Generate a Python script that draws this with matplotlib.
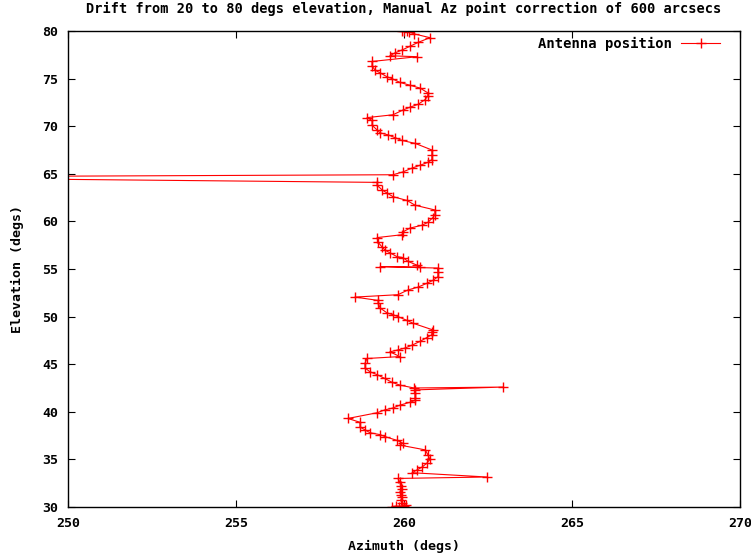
import matplotlib
matplotlib.use("Agg")
import matplotlib.pyplot as plt

# Antenna position samples (in drift order, bottom to top)
azimuth = [
    259.85, 259.65, 259.75, 260.00, 260.05, 259.95, 259.90, 259.95, 259.90, 259.88,
    259.93, 259.90, 259.88, 259.82, 262.47, 260.24, 260.39, 260.54, 260.68, 260.77,
    260.71, 260.63, 259.88, 259.97, 259.79, 259.43, 259.29, 258.99, 258.84, 258.69,
    258.69, 258.33, 259.20, 259.43, 259.67, 259.88, 260.18, 260.33, 260.33, 260.33,
    260.33, 262.95, 260.30, 259.88, 259.64, 259.43, 259.20, 258.99, 258.84, 258.84,
    258.90, 259.88, 259.58, 259.82, 260.03, 260.24, 260.48, 260.68, 260.83, 260.83,
    260.86, 260.27, 260.09, 259.82, 259.67, 259.49, 259.29, 259.23, 259.23, 258.54,
    259.82, 260.12, 260.42, 260.68, 260.86, 261.01, 261.01, 261.00, 259.29, 260.48,
    260.39, 260.12, 259.97, 259.79, 259.58, 259.43, 259.35, 259.23, 259.20, 259.94,
    259.97, 260.18, 260.54, 260.71, 260.86, 260.92, 260.92, 260.33, 260.09, 259.67,
    259.49, 259.35, 259.20, 259.20, 243.00, 259.67, 259.97, 260.24, 260.48, 260.71,
    260.83, 260.83, 260.83, 260.33, 259.94, 259.73, 259.52, 259.29, 259.20, 259.05,
    259.05, 258.90, 259.67, 259.97, 260.18, 260.42, 260.63, 260.71, 260.71, 260.48,
    260.18, 259.88, 259.64, 259.49, 259.29, 259.14, 259.05, 259.05, 260.39, 259.58,
    259.73, 259.94, 260.18, 260.42, 260.77, 260.30, 260.15, 260.00, 259.95, 260.10,
]
elevation = [
    30.00, 30.05, 30.10, 30.10, 30.20, 30.40, 30.70, 31.00, 31.30, 31.60,
    31.90, 32.20, 32.60, 33.00, 33.15, 33.60, 33.90, 34.20, 34.60, 35.00,
    35.50, 36.00, 36.50, 36.70, 37.00, 37.40, 37.60, 37.80, 38.10, 38.40,
    38.90, 39.30, 39.90, 40.20, 40.40, 40.70, 41.00, 41.20, 41.50, 42.00,
    42.30, 42.60, 42.50, 42.80, 43.10, 43.50, 43.90, 44.20, 44.60, 45.10,
    45.60, 45.80, 46.30, 46.50, 46.70, 47.00, 47.40, 47.80, 48.10, 48.40,
    48.60, 49.30, 49.60, 50.00, 50.20, 50.40, 50.90, 51.40, 51.70, 52.05,
    52.30, 52.80, 53.10, 53.50, 53.80, 54.20, 54.70, 55.10, 55.25, 55.20,
    55.40, 55.80, 56.20, 56.30, 56.70, 57.00, 57.30, 57.80, 58.30, 58.60,
    58.90, 59.30, 59.60, 59.90, 60.40, 60.70, 61.20, 61.70, 62.20, 62.60,
    63.00, 63.30, 63.80, 64.10, 64.65, 64.90, 65.20, 65.60, 65.90, 66.20,
    66.50, 67.00, 67.50, 68.20, 68.50, 68.80, 69.10, 69.30, 69.60, 70.10,
    70.60, 70.90, 71.20, 71.70, 72.00, 72.30, 72.80, 73.20, 73.50, 74.00,
    74.30, 74.60, 75.00, 75.20, 75.60, 75.90, 76.30, 76.80, 77.30, 77.40,
    77.70, 78.00, 78.40, 78.80, 79.30, 79.70, 79.90, 80.00, 80.00, 80.00,
]
x_ticks = [250, 255, 260, 265, 270]
y_ticks = [30, 35, 40, 45, 50, 55, 60, 65, 70, 75, 80]
title = "Drift from 20 to 80 degs elevation, Manual Az point correction of 600 arcsecs"
series_label = "Antenna position"

plt.rcParams['font.family'] = ['DejaVu Sans Mono']
plt.rcParams['font.weight'] = 'bold'

fig = plt.figure(figsize=(7.51, 5.57), dpi=100)
ax = fig.add_axes([68/751, 50/557, 672/751, 476/557])

ax.plot(azimuth, elevation, color='#ff0000', linewidth=0.8, marker='+',
        markersize=7, markeredgewidth=1.0, label=series_label)

ax.set_xlim(250, 270)
ax.set_ylim(30, 80)
ax.set_xticks(x_ticks)
ax.set_yticks(y_ticks)
ax.tick_params(direction='in', top=True, right=True, length=5, width=0.8,
               labelsize=9.5, pad=7)
for lbl in ax.get_xticklabels() + ax.get_yticklabels():
    lbl.set_fontweight('bold')
for s in ax.spines.values():
    s.set_linewidth(1.0)

ax.set_xlabel("Azimuth (degs)", fontsize=9.5, fontweight='bold', labelpad=7)
ax.set_ylabel("Elevation (degs)", fontsize=9.5, fontweight='bold', labelpad=13)
ax.set_title(title, fontsize=9.8, fontweight='bold', pad=13)

leg = ax.legend(loc='upper right', frameon=False, fontsize=10, markerfirst=False,
                handlelength=2.8, borderaxespad=0.3, handletextpad=0.7,
                bbox_to_anchor=(1 - 10/672, 1 + 4/476))

fig.savefig("out.png", dpi=100)
